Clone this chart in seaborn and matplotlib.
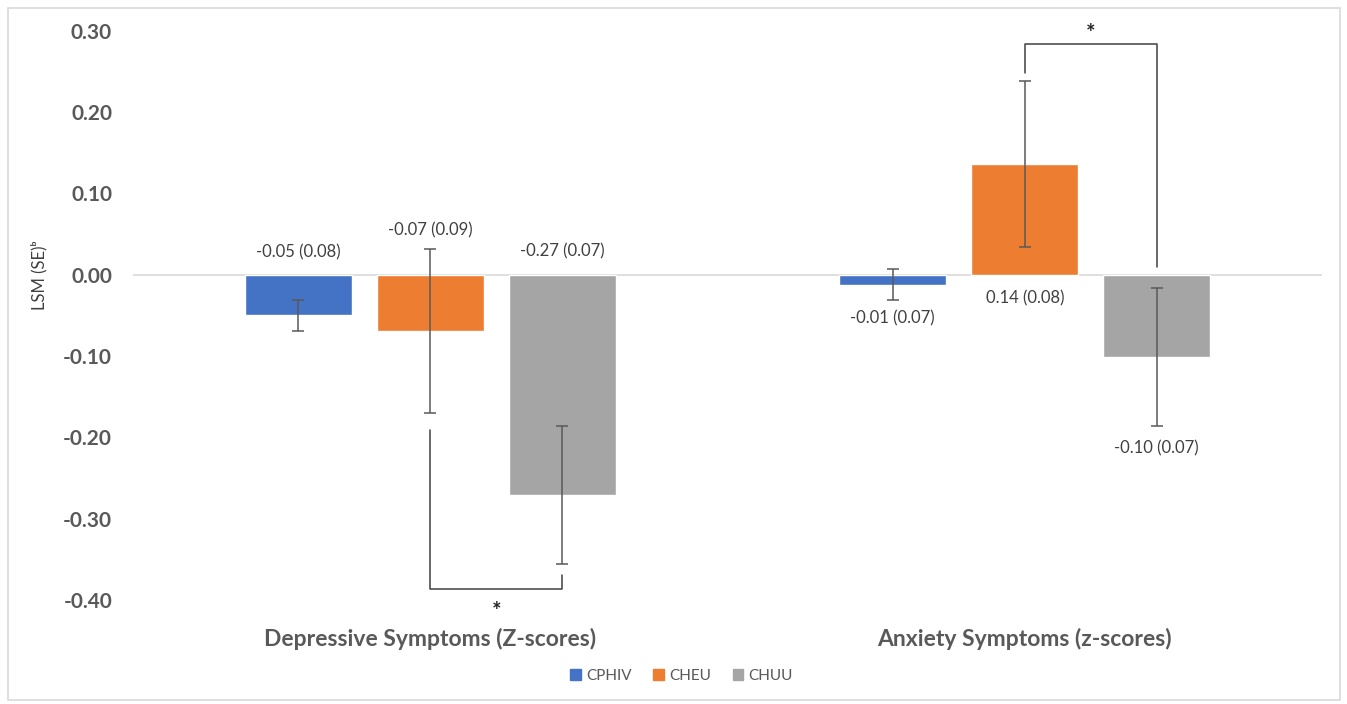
import pandas as pd
import numpy as np
import seaborn as sns
import matplotlib.pyplot as plt
from matplotlib.patches import Rectangle

# dados
categorias = ['Depressive Symptoms (Z-scores)', 'Anxiety Symptoms (z-scores)']
grupos = ['CPHIV', 'CHEU', 'CHUU']
lsm = [-0.050, -0.069, -0.271,    # depressivos
       -0.012, 0.136, -0.101]     # ansiedade
se_rotulo = [0.08, 0.09, 0.07,
             0.07, 0.08, 0.07]
erro = [0.019, 0.101, 0.085,
        0.019, 0.102, 0.085]
cores = ['#4472C4', '#ED7D31', '#A5A5A5']

# posição vertical dos rótulos (ajuste manual, como no Excel)
rotulo_y = [0.027, 0.055, 0.029,
            -0.054, -0.029, -0.214]

df = pd.DataFrame({
    'categoria': [c for c in categorias for _ in grupos],
    'grupo': grupos * len(categorias),
    'lsm': lsm,
})

sns.set_style('white')
plt.rcParams['font.family'] = ['Lato', 'DejaVu Sans']

fig = plt.figure(figsize=(13.47, 7.04), dpi=100)
ax = fig.add_axes([0.0987, 0.148, 0.8828, 0.808])

sns.barplot(data=df, x='categoria', y='lsm', hue='grupo', order=categorias,
            hue_order=grupos, palette=cores, errorbar=None, width=0.666,
            gap=0.19, saturation=1, ax=ax)
ax.set_xlim(-0.5, 1.5)

# centros das barras: containers por grupo, barras por categoria
centros = {}
for g, cont in enumerate(ax.containers):
    for c, barra in enumerate(cont):
        centros[(c, g)] = barra.get_x() + barra.get_width() / 2

for c in range(len(categorias)):
    for g in range(len(grupos)):
        i = c * len(grupos) + g
        x = centros[(c, g)]
        ax.errorbar(x, lsm[i], yerr=erro[i], fmt='none', ecolor='#595959',
                    elinewidth=1.1, capsize=4, capthick=1.1, zorder=4)
        ax.text(x, rotulo_y[i], f'{lsm[i]:.2f} ({se_rotulo[i]:.2f})',
                ha='center', va='center', fontsize=12, color='#404040')

# colchetes de significância
k = dict(color='#404040', lw=1.1, clip_on=False, zorder=5)
x1, x2 = centros[(0, 1)], centros[(0, 2)]
ax.plot([x1, x1, x2, x2], [-0.191, -0.387, -0.387, -0.370], **k)
ax.text((x1 + x2) / 2, -0.414, '*', ha='center', va='center',
        fontsize=16, fontweight='bold', color='#262626')
x1, x2 = centros[(1, 1)], centros[(1, 2)]
ax.plot([x1, x1, x2, x2], [0.248, 0.284, 0.284, 0.010], **k)
ax.text((x1 + x2) / 2, 0.297, '*', ha='center', va='center',
        fontsize=16, fontweight='bold', color='#262626', clip_on=False)

ax.axhline(0, color='#D9D9D9', lw=1.2, zorder=0)
ax.set_ylim(-0.40, 0.30)
ticks = np.arange(-4, 4) / 10
ax.set_yticks(ticks)
ax.set_yticklabels([f'{v:.2f}' for v in ticks])
for t in ax.get_yticklabels():
    t.set_fontweight('bold')
ax.tick_params(axis='y', length=0, pad=15, labelsize=15, labelcolor='#595959')
ax.tick_params(axis='x', length=0, pad=20, labelsize=16.5, labelcolor='#595959')
for t in ax.get_xticklabels():
    t.set_fontweight('bold')
ax.set_xlabel('')
ax.set_ylabel('LSM (SE)ᵇ', fontsize=12, color='#404040')
ax.yaxis.set_label_coords(-0.072, 0.57)
sns.despine(ax=ax, left=True, bottom=True)

ax.get_legend().remove()
handles = [Rectangle((0, 0), 1, 1, color=c) for c in cores]
fig.legend(handles, grupos, loc='center', bbox_to_anchor=(0.506, 0.04), ncol=3,
           frameon=False, handlelength=0.7, handleheight=0.7, handletextpad=0.35,
           columnspacing=1.4, fontsize=11, labelcolor='#595959')

# moldura externa
fig.patches.append(Rectangle((8 / 1347, 4 / 704), 1332 / 1347, 692 / 704,
                             transform=fig.transFigure, fill=False,
                             edgecolor='#D9D9D9', lw=1.2))

fig.savefig('out.png', dpi=100)
